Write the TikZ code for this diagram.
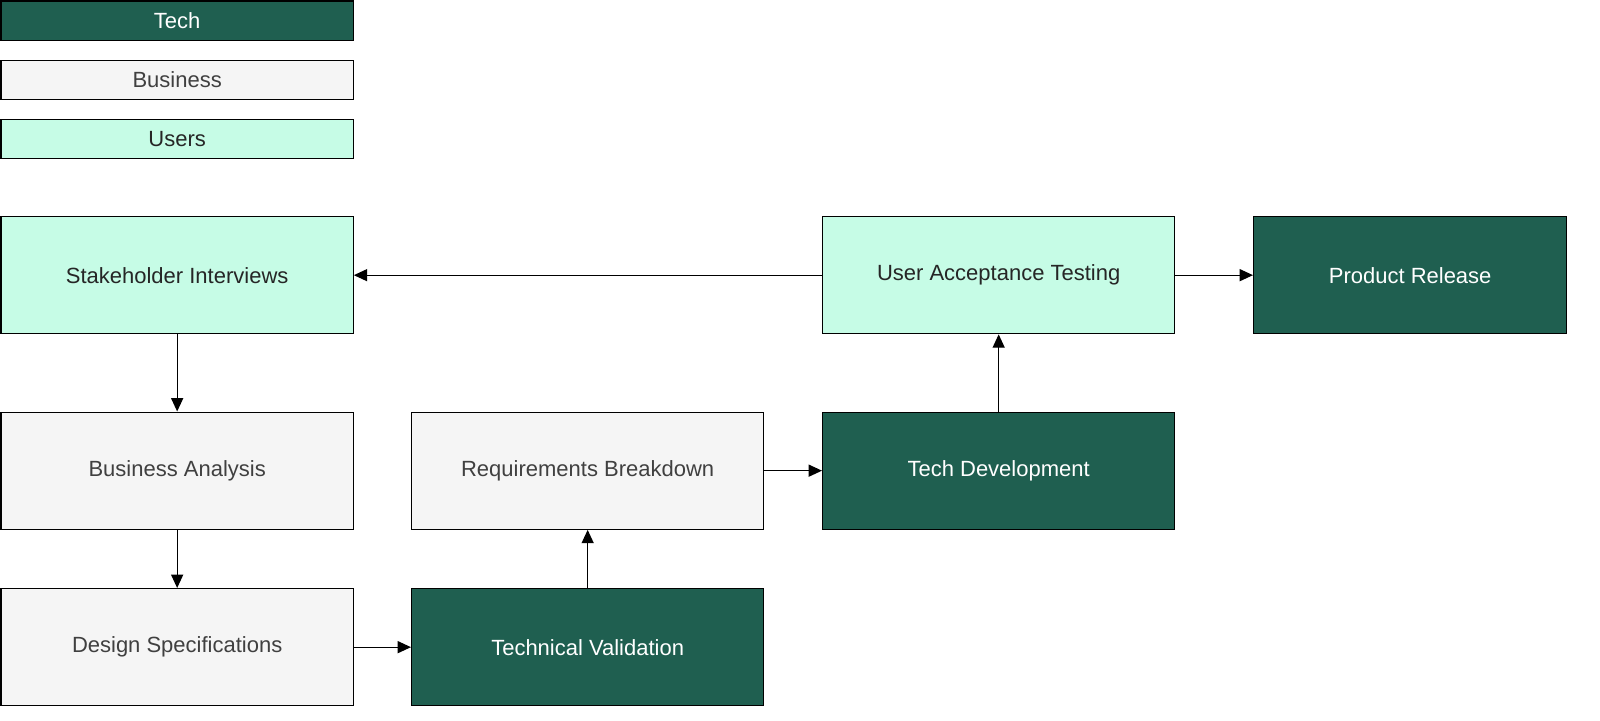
\documentclass[tikz,border=0pt]{standalone}
\usepackage{fontspec}
\setmainfont{Liberation Sans}
\usetikzlibrary{arrows.meta}
\definecolor{tech}{HTML}{1F5F50}
\definecolor{bus}{HTML}{F5F5F5}
\definecolor{usr}{HTML}{C6FCE6}
\newlength\pxu
\setlength\pxu{0.75pt}
\begin{document}
\begin{tikzpicture}[x=\pxu,y=-\pxu,
 box/.style={draw=black,line width=1pt,minimum width=352\pxu,anchor=north west,inner sep=0pt,font=\fontsize{16.5}{19}\selectfont},
 tech/.style={box,fill=tech,text=white},
 bus/.style={box,fill=bus,text=black!75},
 usr/.style={box,fill=usr,text=black!85},
 big/.style={minimum height=117\pxu},
 leg/.style={minimum height=39\pxu},
 arr/.style={-{Triangle[length=10pt,width=9pt]},line width=1pt}]
\useasboundingbox (0,0) rectangle (1600,721);
\node[tech,leg] (lt) at (0.5,0.5) {Tech};
\node[bus,leg] (lb) at (0.5,59.5) {Business};
\node[usr,leg] (lu) at (0.5,118.5) {Users};
\node[usr,big] (si) at (0.5,216) {Stakeholder Interviews};
\node[usr,big] (uat) at (822,216) {User Acceptance Testing};
\node[tech,big,minimum width=313\pxu] (pr) at (1253,216) {Product Release};
\node[bus,big] (ba) at (0.5,411.5) {Business Analysis};
\node[bus,big] (rb) at (411,411.5) {Requirements Breakdown};
\node[tech,big] (td) at (822,411.5) {Tech Development};
\node[bus,big] (ds) at (0.5,588) {Design Specifications};
\node[tech,big] (tv) at (411,588) {Technical Validation};
\draw[arr] (si.south) -- (ba.north);
\draw[arr] (ba.south) -- (ds.north);
\draw[arr] (ds.east) -- (tv.west);
\draw[arr] (tv.north) -- (rb.south);
\draw[arr] (rb.east) -- (td.west);
\draw[arr] (td.north) -- (uat.south);
\draw[arr] (uat.west) -- (si.east);
\draw[arr] (uat.east) -- (pr.west);
\end{tikzpicture}
\end{document}
